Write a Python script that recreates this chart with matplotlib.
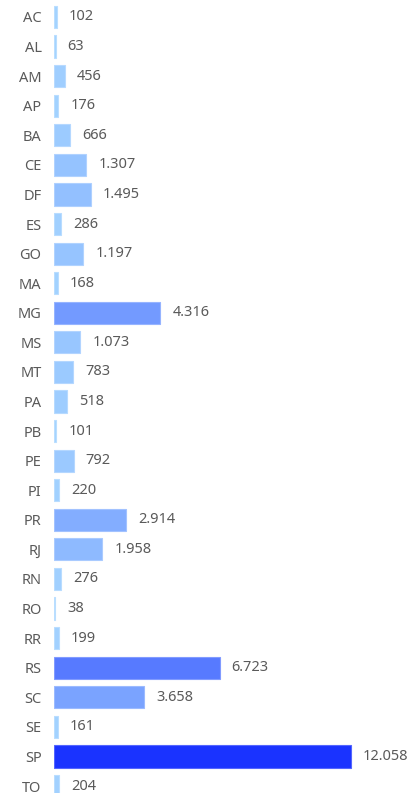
import numpy as np
import matplotlib.pyplot as plt
from matplotlib.colors import to_rgb

states = ["AC", "AL", "AM", "AP", "BA", "CE", "DF", "ES", "GO", "MA", "MG", "MS", "MT", "PA",
          "PB", "PE", "PI", "PR", "RJ", "RN", "RO", "RR", "RS", "SC", "SE", "SP", "TO"]
values = [102, 63, 456, 176, 666, 1307, 1495, 286, 1197, 168, 4316, 1073, 783, 518,
          101, 792, 220, 2914, 1958, 276, 38, 199, 6723, 3658, 161, 12058, 204]

plt.rcParams["font.family"] = ["Noto Sans", "DejaVu Sans"]

low = np.array(to_rgb("#a4d4ff"))
high = np.array(to_rgb("#1a33ff"))


def fmt(v):
    return f"{v:,}".replace(",", ".")


W, H = 411, 793
fig = plt.figure(figsize=(W / 100, H / 100), dpi=100)
ax = fig.add_axes([54 / W, -7.8 / H, 1 - 54 / W, (800.8 - 2.2) / H])

vals = np.array(values)
t = vals / vals.max()
cols = [tuple(low + (high - low) * f) for f in t]
edges = [tuple(np.clip(c * 0.75 + 0.25, 0, 1)) for c in np.array(cols)]
y = np.arange(len(states))
ax.barh(y, vals, height=0.75, color=cols, edgecolor=edges, linewidth=0.8)

for yi, v in zip(y, vals):
    ax.annotate(fmt(v), (v, yi), xytext=(12, 0), textcoords="offset pixels",
                va="center", ha="left", fontsize=10.5, color="#5a5a5a")

ax.set_xlim(0, 12058 * (W - 54) / 297)
ax.set_ylim(len(states) - 0.5, -0.5)
ax.set_yticks(y)
ax.set_yticklabels(states, fontsize=10.5, color="#5a5a5a")
ax.tick_params(axis="y", length=0, pad=9)
ax.set_xticks([])
for s in ax.spines.values():
    s.set_visible(False)

fig.savefig("out.png", dpi=100)
